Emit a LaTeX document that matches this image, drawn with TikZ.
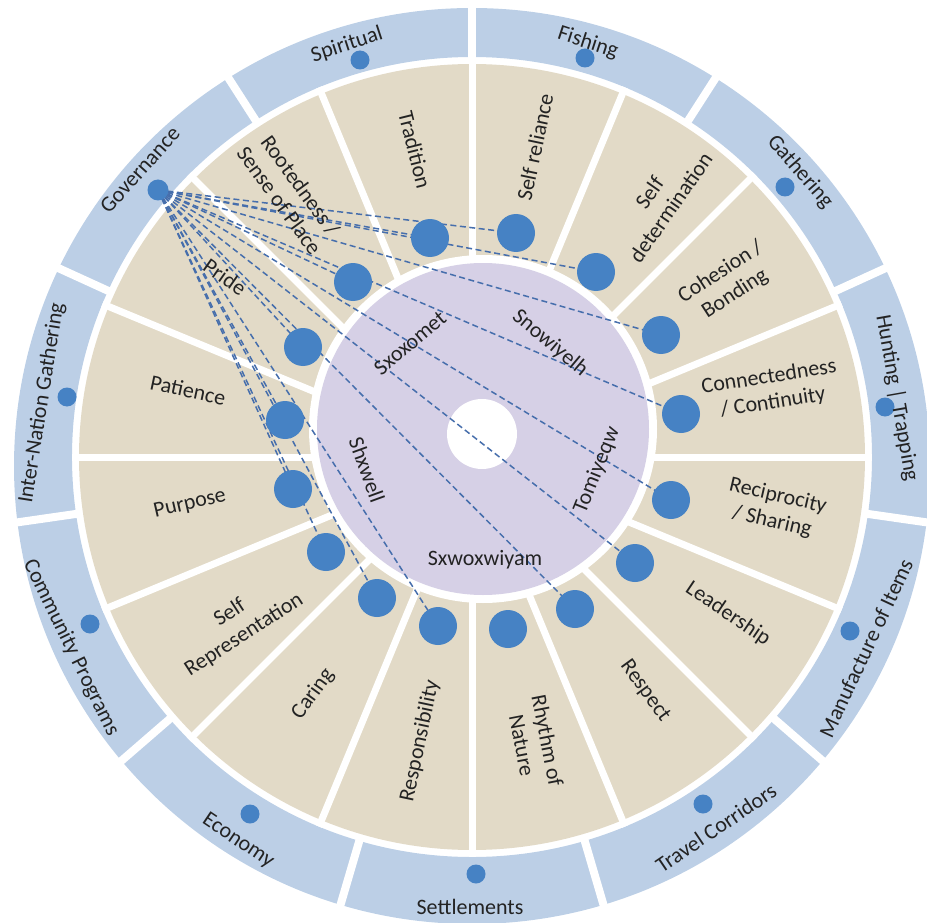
\documentclass[tikz,border=0pt]{standalone}
\usepackage{fontspec}
\setmainfont{Carlito}
\usetikzlibrary{calc}
\pgfdeclarelayer{bg}
\pgfdeclarelayer{links}
\pgfsetlayers{bg,links,main}
\definecolor{ringblue}{RGB}{188,207,230}
\definecolor{sandtan}{RGB}{226,218,199}
\definecolor{lilac}{RGB}{214,208,230}
\definecolor{dotblue}{RGB}{70,130,196}
\definecolor{linkblue}{RGB}{70,110,172}
\definecolor{ink}{RGB}{35,35,35}

\begin{document}
\begin{tikzpicture}[x=1pt,y=1pt,
  lbl/.style={text=ink, font=\fontsize{22}{26}\selectfont, align=center, inner sep=0pt},
  bigdot/.style={circle, fill=dotblue, minimum size=38pt, inner sep=0pt},
  smalldot/.style={circle, fill=dotblue, minimum size=19pt, inner sep=0pt},
  link/.style={draw=linkblue, line width=1.5pt, dash pattern=on 6pt off 3.5pt},
  gapline/.style={white, line width=7pt},
  ringgap/.style={white, line width=8pt}]

\clip (0,0) rectangle (927,-923);

% rings, spokes and hub
\begin{pgfonlayer}{bg}
  \fill[ringblue, even odd rule] (472,-466) circle (458) (472,-457) circle (400);
  \fill[sandtan] (472,-457) circle (393);
  \foreach \k in {0,...,15}
    \draw[gapline] (472,-457) -- ++({90-22.5*\k}:400);
  \foreach \k in {0,...,10}
    \draw[ringgap] ($(472,-457)+({90-32.7273*\k}:394)$) -- ++({90-32.7273*\k}:90);
  \fill[white] (483,-429) circle (174);
  \fill[lilac] (483,-429) circle (166);
  \fill[white] (482,-434) circle (35);
\end{pgfonlayer}

% value markers on the inner ring
\node[bigdot] (d-trad)   at (430,-238) {};
\node[bigdot] (d-srel)   at (516,-233) {};
\node[bigdot] (d-sdet)   at (596,-272) {};
\node[bigdot] (d-coh)    at (661,-335) {};
\node[bigdot] (d-conn)   at (681,-414) {};
\node[bigdot] (d-reci)   at (671,-500) {};
\node[bigdot] (d-lead)   at (635,-563) {};
\node[bigdot] (d-resp)   at (575,-609) {};
\node[bigdot] (d-rhy)    at (508,-629) {};
\node[bigdot] (d-respon) at (438,-626) {};
\node[bigdot] (d-car)    at (377,-598) {};
\node[bigdot] (d-srep)   at (326,-552) {};
\node[bigdot] (d-purp)   at (293,-489) {};
\node[bigdot] (d-pat)    at (285,-420) {};
\node[bigdot] (d-pride)  at (303,-347) {};
\node[bigdot] (d-root)   at (353,-282) {};

% activity markers on the outer ring
\node[smalldot] (s-spir)  at (360,-60) {};
\node[smalldot] (s-fish)  at (585,-58) {};
\node[smalldot] (s-gath)  at (785,-187) {};
\node[smalldot] (s-hunt)  at (885,-407) {};
\node[smalldot] (s-manu)  at (850,-631) {};
\node[smalldot] (s-trav)  at (703,-804) {};
\node[smalldot] (s-sett)  at (476,-874) {};
\node[smalldot] (s-econ)  at (250,-814) {};
\node[smalldot] (s-comm)  at (90,-624) {};
\node[smalldot] (s-inter) at (67,-397) {};
\node[smalldot, minimum size=21pt] (gov) at (158,-190) {};

% governance links
\begin{pgfonlayer}{links}
  \foreach \t in {trad,srel,sdet,coh,conn,reci,lead,resp,respon,car,srep,purp,pat,pride,root}
    \draw[link] (gov.center) -- (d-\t.center);
\end{pgfonlayer}

% inner ring labels
\node[lbl, rotate=-76] (t-trad)   at (415,-150) {Tradition};
\node[lbl, rotate=78]  (t-srel)   at (535,-147) {Self reliance};
\node[lbl, rotate=55]  (t-sdet)   at (660,-200) {Self\\determination};
\node[lbl, rotate=33]  (t-coh)    at (728,-283) {Cohesion /\\Bonding};
\node[lbl, rotate=9]   (t-conn)   at (771,-390) {Connectedness\\/ Continuity};
\node[lbl, rotate=-13] (t-reci)   at (775,-509) {Reciprocity\\/ Sharing};
\node[lbl, rotate=-34] (t-lead)   at (728,-614) {Leadership};
\node[lbl, rotate=-54] (t-resp)   at (645,-691) {Respect};
\node[lbl, rotate=-79] (t-rhy)    at (535,-743) {Rhythm of\\Nature};
\node[lbl, rotate=78]  (t-respon) at (420,-741) {Responsibility};
\node[lbl, rotate=54]  (t-car)    at (313,-694) {Caring};
\node[lbl, rotate=33]  (t-srep)   at (237,-624) {Self\\Representation};
\node[lbl, rotate=13]  (t-purp)   at (190,-504) {Purpose};
\node[lbl, rotate=-12] (t-pat)    at (188,-390) {Patience};
\node[lbl, rotate=-35] (t-pride)  at (225,-277) {Pride};
\node[lbl, rotate=-54] (t-root)   at (290,-193) {Rootedness /\\Sense of Place};

% outer ring labels
\node[lbl, rotate=18]  (r-spir)  at (347,-45)  {Spiritual};
\node[lbl, rotate=-18] (r-fish)  at (588,-43)  {Fishing};
\node[lbl, rotate=-49] (r-gath)  at (800,-172) {Gathering};
\node[lbl, rotate=-80] (r-hunt)  at (897,-398) {Hunting | Trapping};
\node[lbl, rotate=65]  (r-manu)  at (866,-648) {Manufacture of Items};
\node[lbl, rotate=34]  (r-trav)  at (716,-828) {Travel Corridors};
\node[lbl]             (r-sett)  at (470,-907) {Settlements};
\node[lbl, rotate=-34] (r-econ)  at (238,-841) {Economy};
\node[lbl, rotate=-64] (r-comm)  at (71,-648)  {Community Programs};
\node[lbl, rotate=81]  (r-inter) at (42,-403)  {Inter-Nation Gathering};
\node[lbl, rotate=48]  (r-gov)   at (140,-170) {Governance};

% hub labels
\node[lbl, rotate=40]  (h-sxox) at (410,-343) {Sxoxomet};
\node[lbl, rotate=-40] (h-snow) at (550,-343) {Snowiyelh};
\node[lbl, rotate=68]  (h-tomi) at (597,-470) {Tomiyeqw};
\node[lbl]             (h-sxwo) at (485,-560) {Sxwoxwiyam};
\node[lbl, rotate=-70] (h-shxw) at (367,-470) {Shxwell};
\end{tikzpicture}
\end{document}
